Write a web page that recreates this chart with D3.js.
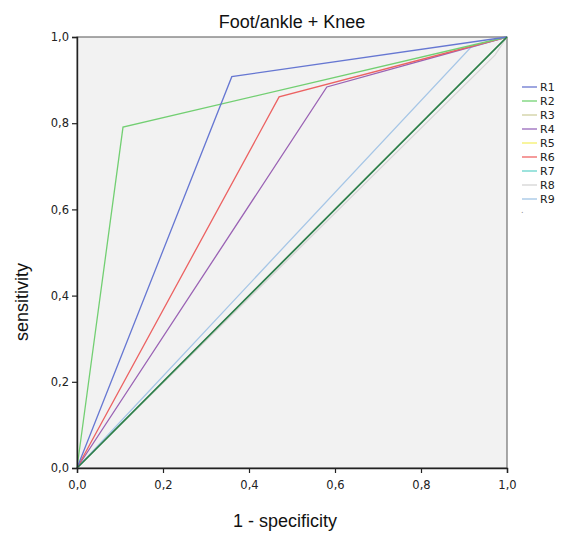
<!DOCTYPE html>
<html><head><meta charset="utf-8">
<script src="https://cdn.jsdelivr.net/npm/d3@7"></script>
<style>body{margin:0;background:#fff;}</style>
</head><body>
<svg id="chart" width="565" height="534"></svg>
<script>
const seriesNames = ["R1","R2","R3","R4","R5","R6","R7","R8","R9"];
const seriesColors = ["#6677d2","#72cf72","#cfcfa0","#9a62b4","#f2ee6e","#ec6262","#6cd6cc","#d6d6d6","#a6c6e6"];
const legendColors = ["#7e89d6","#86d886","#d6d6ac","#a67cc4","#f6f27e","#f27a7a","#7cdad2","#dadada","#aecde9"];
// ROC points [1-specificity, sensitivity]
const R1 = [[0,0],[0.36,0.908],[1,1]];
const R2 = [[0,0],[0.107,0.791],[1,1]];
const R3 = [[0,0],[1,1]];
const R4 = [[0,0],[0.581,0.884],[1,1]];
const R5 = [[0,0],[1,1]];
const R6 = [[0,0],[0.47,0.861],[1,1]];
const R7 = [[0,0],[1,1]];
const R8 = [[0,0],[0.972,0.958],[1,1]];
const R9 = [[0,0],[0.916,0.976],[1,1]];
const refLine = [[0,0],[1,1]];
const seriesData = [R1,R2,R3,R4,R5,R6,R7,R8,R9];
const tickValues = [0,0.2,0.4,0.6,0.8,1.0];

const svg = d3.select("#chart");
const x = d3.scaleLinear().domain([0,1]).range([77,507]);
const y = d3.scaleLinear().domain([0,1]).range([468,37]);
const fmt = d => d3.format(".1f")(d).replace(".",",");

svg.append("rect").attr("x",x(0)).attr("y",y(1)).attr("width",x(1)-x(0)).attr("height",y(0)-y(1))
  .attr("fill","#f2f2f2").attr("stroke","#555").attr("stroke-width",1);

const line = d3.line().x(d=>x(d[0])).y(d=>y(d[1]));
const g = svg.append("g");
const order = [7,2,4,6,8,3,5,1,0];
order.forEach(i=>{
  g.append("path").attr("d",line(seriesData[i])).attr("fill","none")
   .attr("stroke",seriesColors[i]).attr("stroke-width",1.3);
});
g.append("path").attr("d",line(refLine)).attr("fill","none").attr("stroke","#2e7a4c").attr("stroke-width",1.6);

const xAxis = svg.append("g").attr("transform",`translate(0,${y(0)})`)
  .call(d3.axisBottom(x).tickValues(tickValues).tickFormat(fmt).tickSizeOuter(0).tickSize(5));
const yAxis = svg.append("g").attr("transform",`translate(${x(0)},0)`)
  .call(d3.axisLeft(y).tickValues(tickValues).tickFormat(fmt).tickSizeOuter(0).tickSize(5));
[xAxis,yAxis].forEach(a=>{
  a.selectAll("path").attr("stroke","#222").attr("stroke-width",1.4);
  a.selectAll("line").attr("stroke","#222").attr("stroke-width",1.2);
  a.selectAll("text").attr("font-family","DejaVu Sans, Verdana, sans-serif").attr("font-size",11.5).attr("fill","#222");
});
xAxis.selectAll("text").attr("dy","1.15em");

svg.append("text").attr("x",292).attr("y",28).attr("text-anchor","middle")
  .attr("font-family","Liberation Sans, Arial, sans-serif").attr("font-size",18).attr("fill","#111").text("Foot/ankle + Knee");
svg.append("text").attr("x",285).attr("y",527).attr("text-anchor","middle")
  .attr("font-family","Liberation Sans, Arial, sans-serif").attr("font-size",18).attr("fill","#111").text("1 - specificity");
svg.append("text").attr("transform","translate(28,302) rotate(-90)").attr("text-anchor","middle")
  .attr("font-family","Liberation Sans, Arial, sans-serif").attr("font-size",18).attr("fill","#111").text("sensitivity");

const leg = svg.append("g");
seriesNames.forEach((n,i)=>{
  const yy = 87 + i*14;
  leg.append("line").attr("x1",522).attr("x2",537).attr("y1",yy).attr("y2",yy)
    .attr("stroke",legendColors[i]).attr("stroke-width",1.5);
  leg.append("text").attr("x",540).attr("y",yy+4).attr("font-family","DejaVu Sans, Verdana, sans-serif")
    .attr("font-size",11).attr("fill","#222").text(n);
});
leg.append("text").attr("x",521).attr("y",213).attr("font-family","DejaVu Sans, sans-serif").attr("font-size",8).attr("fill","#888").text(".");
</script>
</body></html>
